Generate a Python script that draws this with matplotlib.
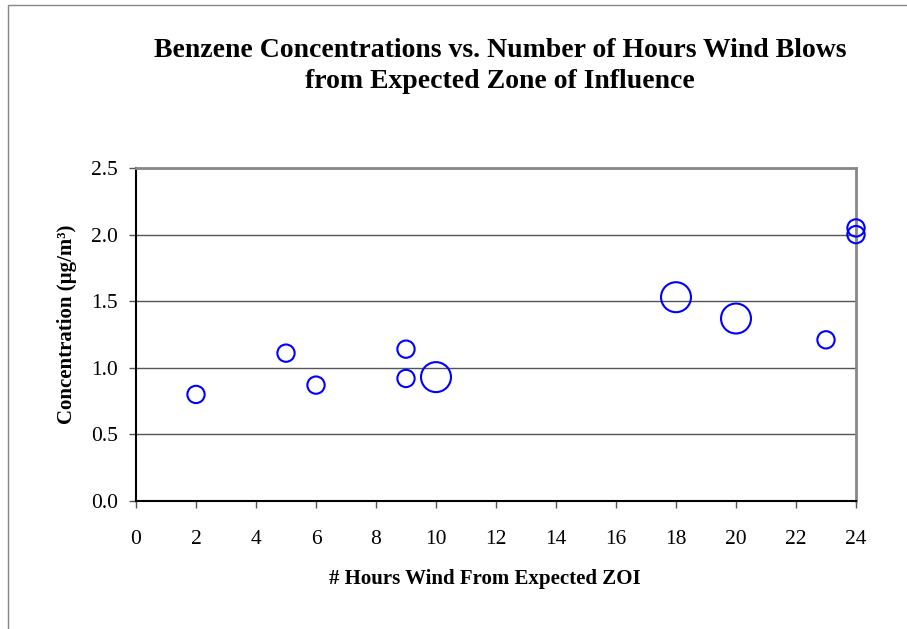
import matplotlib.pyplot as plt
import matplotlib.patches as mpatches
import numpy as np

hours = [2, 5, 6, 9, 9, 10, 18, 20, 23, 24, 24]
conc = [0.80, 1.11, 0.87, 1.14, 0.92, 0.93, 1.53, 1.37, 1.21, 2.05, 2.00]
bubble = [1, 1, 1, 1, 1, 3, 3, 3, 1, 1, 1]

plt.rcParams['font.family'] = ['Liberation Serif', 'DejaVu Serif']

fig = plt.figure(figsize=(9.07, 6.29), dpi=100)
ax = fig.add_axes([136 / 907, 1 - 501 / 629, 720 / 907, 333 / 629])

# outer chart border (only top/left visible in the original)
fig.patches.append(mpatches.Rectangle((8 / 907, -0.1), 1.2, 1 - 5 / 629 + 0.1,
                                      transform=fig.transFigure, fill=False,
                                      edgecolor='#888888', linewidth=1.0))

sizes = 155 * np.array(bubble, dtype=float)
ax.scatter(hours, conc, s=sizes, facecolors='none', edgecolors='#0000ff',
           linewidths=1.5, zorder=3, clip_on=False)

ax.set_xlim(0, 24)
ax.set_ylim(0, 2.5)
ax.set_xticks(np.arange(0, 25, 2))
ax.set_yticks(np.arange(0, 2.51, 0.5))
ax.set_yticklabels([f"{v:.1f}" for v in np.arange(0, 2.51, 0.5)])
ax.yaxis.grid(True, color='#555555', linewidth=1.0)
ax.set_axisbelow(True)

for s in ['left', 'bottom']:
    ax.spines[s].set_color('black')
    ax.spines[s].set_linewidth(1.5)
for s in ['top', 'right']:
    ax.spines[s].set_color('#888888')
    ax.spines[s].set_linewidth(2.0)

ax.tick_params(axis='both', direction='out', length=5, width=1, color='#555555',
               labelsize=15.5)
ax.tick_params(axis='x', pad=16)
ax.tick_params(axis='y', pad=8)

ax.set_xlabel("# Hours Wind From Expected ZOI", fontsize=15, fontweight='bold')
ax.xaxis.set_label_coords(0.485, -0.205)
ax.set_ylabel("Concentration (µg/m³)", fontsize=15, fontweight='bold')
ax.yaxis.set_label_coords(-0.082, 0.53)

fig.text(0.551, 0.895, "Benzene Concentrations vs. Number of Hours Wind Blows\nfrom Expected Zone of Influence",
         ha='center', va='center', fontsize=20, fontweight='bold', linespacing=1.28)

fig.savefig("out.png", dpi=100)
